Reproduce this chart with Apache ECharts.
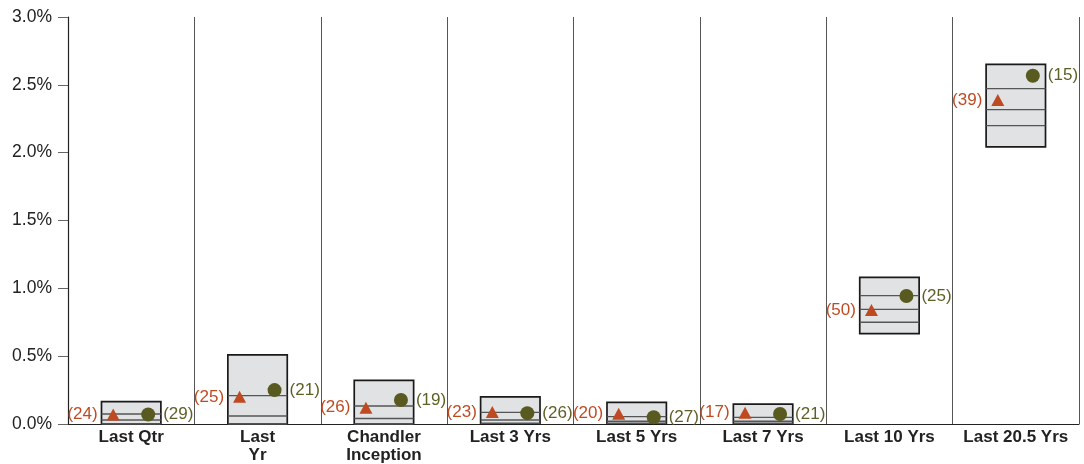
<!DOCTYPE html>
<html>
<head>
<meta charset="utf-8">
<script src="https://cdn.jsdelivr.net/npm/echarts@6/dist/echarts.min.js"></script>
<style>
  html, body { margin: 0; padding: 0; background: #fff; }
  #main { width: 1084px; height: 464px; }
</style>
</head>
<body>
<div id="main"></div>
<script>
var categories = ['Last Qtr', 'Last\nYr', 'Chandler\nInception', 'Last 3 Yrs', 'Last 5 Yrs', 'Last 7 Yrs', 'Last 10 Yrs', 'Last 20.5 Yrs'];
// percentile box edges (%), top to bottom
var p95 = [0.165, 0.509, 0.322, 0.200, 0.160, 0.147, 1.081, 2.651];
var p75 = [0.074, 0.209, 0.133, 0.086, 0.054, 0.049, 0.946, 2.472];
var p50 = [0.030, 0.059, 0.040, 0.030, 0.020, 0.020, 0.845, 2.317];
var p25 = [0.000, 0.000, 0.000, 0.005, 0.005, 0.005, 0.750, 2.199];
var p5  = [0.000, 0.000, 0.000, 0.000, 0.000, 0.000, 0.666, 2.042];
// triangle marker values and ranks
var triVals  = [0.070, 0.200, 0.120, 0.088, 0.076, 0.083, 0.840, 2.388];
var triRanks = [24, 25, 26, 23, 20, 17, 50, 39];
// circle marker values and ranks
var dotVals  = [0.070, 0.250, 0.177, 0.080, 0.050, 0.074, 0.943, 2.567];
var dotRanks = [29, 21, 19, 26, 27, 21, 25, 15];

var chartDom = document.getElementById('main');
var myChart = echarts.init(chartDom);

var boxData = categories.map(function (c, i) {
  return [i, p5[i], p25[i], p50[i], p75[i], p95[i]];
});

function renderBox(params, api) {
  var idx = api.value(0);
  var x = api.coord([idx, 0])[0];
  var w = api.size([1, 0])[0] * 0.47;
  var yLow = api.coord([idx, api.value(1)])[1];
  var yHigh = api.coord([idx, api.value(5)])[1];
  var children = [{
    type: 'rect',
    shape: { x: x - w / 2, y: yHigh, width: w, height: yLow - yHigh },
    style: { fill: '#e1e2e4', stroke: '#1a1a1a', lineWidth: 1.7 }
  }];
  [2, 3, 4].forEach(function (k) {
    var y = api.coord([idx, api.value(k)])[1];
    children.push({
      type: 'line',
      shape: { x1: x - w / 2, y1: y, x2: x + w / 2, y2: y },
      style: { stroke: '#555', lineWidth: 1.4 }
    });
  });
  return { type: 'group', children: children };
}

var option = {
  animation: false,
  grid: { left: 68, right: 5, top: 17, bottom: 40 },
  xAxis: {
    type: 'category',
    data: categories,
    axisLine: { lineStyle: { color: '#222', width: 1.2 } },
    axisTick: { show: false },
    splitLine: { show: true, lineStyle: { color: '#555', width: 1 } },
    axisLabel: {
      color: '#222', fontSize: 17, fontWeight: 'bold',
      fontFamily: 'Liberation Sans', lineHeight: 18, margin: 4, interval: 0
    }
  },
  yAxis: {
    type: 'value',
    min: 0, max: 3, interval: 0.5,
    axisLine: { show: true, lineStyle: { color: '#222', width: 1.2 } },
    axisTick: { show: true, length: 10, lineStyle: { color: '#666' } },
    splitLine: { show: false },
    axisLabel: {
      color: '#222', fontSize: 17.5, fontFamily: 'Liberation Sans', margin: 16,
      formatter: function (v) { return v.toFixed(1) + '%'; }
    }
  },
  series: [
    {
      type: 'custom',
      renderItem: renderBox,
      data: boxData,
      encode: { x: 0, y: [1, 5] },
      z: 2
    },
    {
      type: 'scatter',
      symbol: 'triangle',
      symbolSize: [13, 12],
      symbolOffset: [-18, 0],
      itemStyle: { color: '#bf4a22', opacity: 1 },
      label: {
        show: true, position: 'left', distance: 9,
        color: '#bf4a22', fontSize: 17, fontFamily: 'Liberation Sans',
        formatter: function (p) { return '(' + triRanks[p.dataIndex] + ')'; }
      },
      data: triVals.map(function (v, i) { return [i, v]; }),
      z: 3
    },
    {
      type: 'scatter',
      symbol: 'circle',
      symbolSize: 14,
      symbolOffset: [17, 0],
      itemStyle: { color: '#595a1f', opacity: 1 },
      label: {
        show: true, position: 'right', distance: 8,
        color: '#5f6026', fontSize: 17, fontFamily: 'Liberation Sans',
        formatter: function (p) { return '(' + dotRanks[p.dataIndex] + ')'; }
      },
      data: dotVals.map(function (v, i) { return [i, v]; }),
      z: 3
    }
  ]
};
option && myChart.setOption(option);
</script>
</body>
</html>
